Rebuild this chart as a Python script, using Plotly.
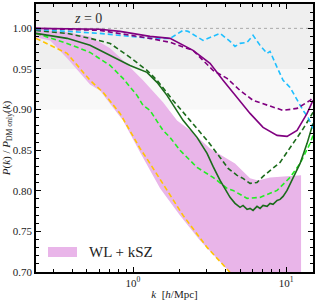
import plotly.graph_objects as go

# ---- data ----
band_upper_k = [0.232, 0.371, 0.524, 0.708, 0.860, 1.0, 1.162, 1.570, 1.940, 2.358, 3.186, 3.704, 4.64, 5.816, 6.56, 7.858, 9.85, 12.53]
band_upper_p = [0.9988, 0.9951, 0.9901, 0.9754, 0.9606, 0.9483, 0.936, 0.9089, 0.8867, 0.8744, 0.8522, 0.8448, 0.8337, 0.8153, 0.8128, 0.8165, 0.8177, 0.819]
band_lower_k = [0.232, 0.287, 0.371, 0.524, 0.608, 0.860, 1.111, 1.501, 2.028, 2.740, 4.305, 5.0, 12.53]
band_lower_p = [0.9889, 0.9852, 0.9631, 0.931, 0.9236, 0.8867, 0.8473, 0.803, 0.7697, 0.7389, 0.6995, 0.683, 0.60]

purple_solid_k = [0.232, 0.608, 0.822, 1.291, 1.745, 2.466, 3.186, 3.874, 4.785, 5.816, 7.074, 8.736, 10.15, 11.80, 13.72, 15.0]
purple_solid_p = [1.000, 0.9990, 0.9963, 0.9901, 0.9877, 0.9729, 0.9569, 0.9360, 0.9150, 0.8953, 0.8781, 0.8682, 0.8670, 0.8744, 0.8953, 0.9113]

purple_dash_k = [0.232, 0.608, 1.291, 1.745, 2.466, 3.333, 4.115, 5.003, 6.085, 7.518, 9.560, 11.80, 14.36, 15.0]
purple_dash_p = [1.000, 0.9975, 0.9877, 0.9828, 0.9729, 0.9483, 0.9384, 0.9236, 0.9113, 0.9052, 0.8990, 0.9015, 0.9113, 0.915]

cyan_k = [0.232, 0.608, 1.291, 1.745, 2.123, 2.287, 2.868, 3.186, 3.704, 4.305, 4.64, 5.003, 5.560, 6.085, 6.760, 7.518, 7.858, 8.736, 9.560, 10.62, 11.80, 12.92, 13.93, 15.0]
cyan_p = [0.9988, 0.9938, 0.9877, 0.9877, 0.9975, 0.9963, 0.9852, 0.9889, 0.9938, 0.984, 0.9778, 0.9815, 0.9828, 0.9914, 0.9791, 0.9692, 0.9717, 0.952, 0.936, 0.9273, 0.9113, 0.899, 0.8904, 0.8768]

dkgreen_solid_k = [0.232, 0.371, 0.524, 0.708, 0.956, 1.234, 1.435, 1.667, 1.882, 2.123, 2.620, 3.046, 3.333, 3.704, 4.305, 4.64, 5.003, 5.234, 5.56, 5.816, 6.085, 6.46, 6.76, 7.074, 7.518, 7.858, 8.222, 8.736, 9.138, 9.56, 10.15, 11.11, 12.35, 13.72, 15.0]
dkgreen_solid_p = [0.9938, 0.9877, 0.9791, 0.9667, 0.9544, 0.9458, 0.9335, 0.9175, 0.9015, 0.8867, 0.8658, 0.8461, 0.830, 0.8128, 0.7919, 0.7845, 0.7796, 0.782, 0.7771, 0.7783, 0.7759, 0.7808, 0.7783, 0.782, 0.7808, 0.7845, 0.7833, 0.7882, 0.7894, 0.7931, 0.8005, 0.8165, 0.8337, 0.8584, 0.883]

dkgreen_dash_k = [0.232, 0.371, 0.524, 0.708, 0.956, 1.234, 1.435, 1.825, 2.358, 3.046, 3.704, 4.18, 4.785, 5.234, 5.816, 6.46, 7.074, 9.138, 11.11, 12.73, 14.36, 15.0]
dkgreen_dash_p = [0.9975, 0.9938, 0.9877, 0.9815, 0.9643, 0.9483, 0.936, 0.9113, 0.8867, 0.8621, 0.8411, 0.8276, 0.819, 0.8153, 0.8091, 0.8103, 0.8177, 0.835, 0.8584, 0.8744, 0.8904, 0.8966]

lime_k = [0.232, 0.371, 0.524, 0.708, 0.860, 1.062, 1.162, 1.291, 1.570, 1.745, 2.028, 2.358, 2.620, 3.333, 4.115, 4.504, 5.560, 6.760, 8.736, 10.62, 12.35, 14.36, 15.0]
lime_p = [0.9938, 0.9815, 0.9704, 0.9544, 0.9384, 0.9175, 0.9052, 0.899, 0.8744, 0.8658, 0.8498, 0.8374, 0.8288, 0.8165, 0.803, 0.8005, 0.7906, 0.7919, 0.8005, 0.8165, 0.8337, 0.8584, 0.8682]

gold_k = [0.232, 0.371, 0.524, 0.637, 0.822, 1.111, 1.291, 1.667, 2.123, 3.046, 4.305, 5.0]
gold_p = [0.9877, 0.9692, 0.936, 0.9212, 0.8953, 0.8522, 0.8337, 0.8005, 0.7697, 0.7303, 0.6995, 0.680]

y_tick_vals = [0.70, 0.75, 0.80, 0.85, 0.90, 0.95, 1.00]
y_tick_text = ["0.70", "0.75", "0.80", "0.85", "0.90", "0.95", "1.00"]
x_tick_vals = [1, 10]
x_tick_text = ["10<sup>0</sup>", "10<sup>1</sup>"]
x_minor_vals = [0.3, 0.4, 0.5, 0.6, 0.7, 0.8, 0.9, 2, 3, 4, 5, 6, 7, 8, 9]
y_minor_vals = [round(0.70 + 0.01 * i, 2) for i in range(33)]
legend_label = "WL + kSZ"

band_color = "#e9b5e9"

# ---- figure ----
fig = go.Figure()

fig.add_trace(go.Scatter(
    x=band_upper_k + band_lower_k[::-1],
    y=band_upper_p + band_lower_p[::-1],
    fill="toself", fillcolor=band_color, mode="lines",
    line=dict(width=0, color=band_color), name=legend_label, showlegend=False,
    hoverinfo="skip"))

dash = "5px,3px"
def add_line(k, p, color, d=None, w=1.6):
    fig.add_trace(go.Scatter(x=k, y=p, mode="lines", showlegend=False,
                             line=dict(color=color, width=w, dash=d), hoverinfo="skip"))

add_line(gold_k, gold_p, "#ffc400", dash)
add_line(lime_k, lime_p, "#22ee22", dash)
add_line(dkgreen_dash_k, dkgreen_dash_p, "#1b6b1b", dash)
add_line(dkgreen_solid_k, dkgreen_solid_p, "#1b6b1b", None)
add_line(cyan_k, cyan_p, "#1ebfff", dash)
add_line(purple_dash_k, purple_dash_p, "#800080", dash)
add_line(purple_solid_k, purple_solid_p, "#800080", None)

# plot area in pixels: x 36..313, y 4..272 (width 277, height 268)
pw, ph = 277.0, 268.0
shapes = [
    dict(type="rect", xref="paper", yref="y", x0=0, x1=1, y0=0.95, y1=1.03,
         fillcolor="#efefef", line=dict(width=0), layer="below"),
    dict(type="rect", xref="paper", yref="y", x0=0, x1=1, y0=0.90, y1=0.95,
         fillcolor="#f8f8f8", line=dict(width=0), layer="below"),
    dict(type="line", xref="paper", yref="y", x0=0, x1=1, y0=1.0, y1=1.0,
         line=dict(color="#aaaaaa", width=1, dash="dot"), layer="below"),
    # legend swatch
    dict(type="rect", xref="paper", yref="paper",
         x0=(48 - 36) / pw, x1=(77 - 36) / pw,
         y0=(272 - 257) / ph, y1=(272 - 247) / ph,
         fillcolor=band_color, line=dict(width=0), layer="above"),
]

font_family = "Liberation Serif"
fig.update_layout(
    width=316, height=303,
    margin=dict(l=36, r=3, t=4, b=31, autoexpand=False),
    paper_bgcolor="white", plot_bgcolor="white",
    shapes=shapes,
    font=dict(family=font_family, size=11, color="#222222"),
    showlegend=False,
    annotations=[
        dict(x=-0.294, y=1.012, xref="x", yref="y",
             text="<i>z</i> = 0", showarrow=False,
             font=dict(size=14, family=font_family, color="#333333")),
        dict(x=(87 - 36) / pw, y=(272 - 252) / ph, xref="paper", yref="paper",
             xanchor="left", yanchor="middle",
             text=legend_label, showarrow=False,
             font=dict(size=15, family=font_family, color="#222222")),
    ],
)

fig.update_xaxes(
    type="log", range=[-0.634, 1.176], automargin=False,
    tickvals=x_tick_vals, ticktext=x_tick_text,
    ticks="inside", ticklen=5, tickwidth=1, tickcolor="black",
    minor=dict(tickvals=x_minor_vals, ticks="inside", ticklen=3, tickcolor="black", showgrid=False),
    showline=True, linecolor="black", linewidth=1.5, mirror="ticks",
    showgrid=False, zeroline=False,
    title=dict(text="<i>k</i>  [<i>h</i>/Mpc]", standoff=2, font=dict(size=11)),
)
fig.update_yaxes(
    range=[0.70, 1.03], automargin=False,
    tickvals=y_tick_vals, ticktext=y_tick_text,
    ticks="inside", ticklen=5, tickwidth=1, tickcolor="black",
    minor=dict(tickvals=y_minor_vals, ticks="inside", ticklen=3, tickcolor="black", showgrid=False),
    showline=True, linecolor="black", linewidth=1.5, mirror="ticks",
    showgrid=False, zeroline=False,
    title=dict(text="<i>P</i>(<i>k</i>) / <i>P</i><sub>DM only</sub>(<i>k</i>)", standoff=2, font=dict(size=11)),
)

fig.write_html("out.html", config={"displayModeBar": False},
               post_script="document.body.style.margin='0px';")
